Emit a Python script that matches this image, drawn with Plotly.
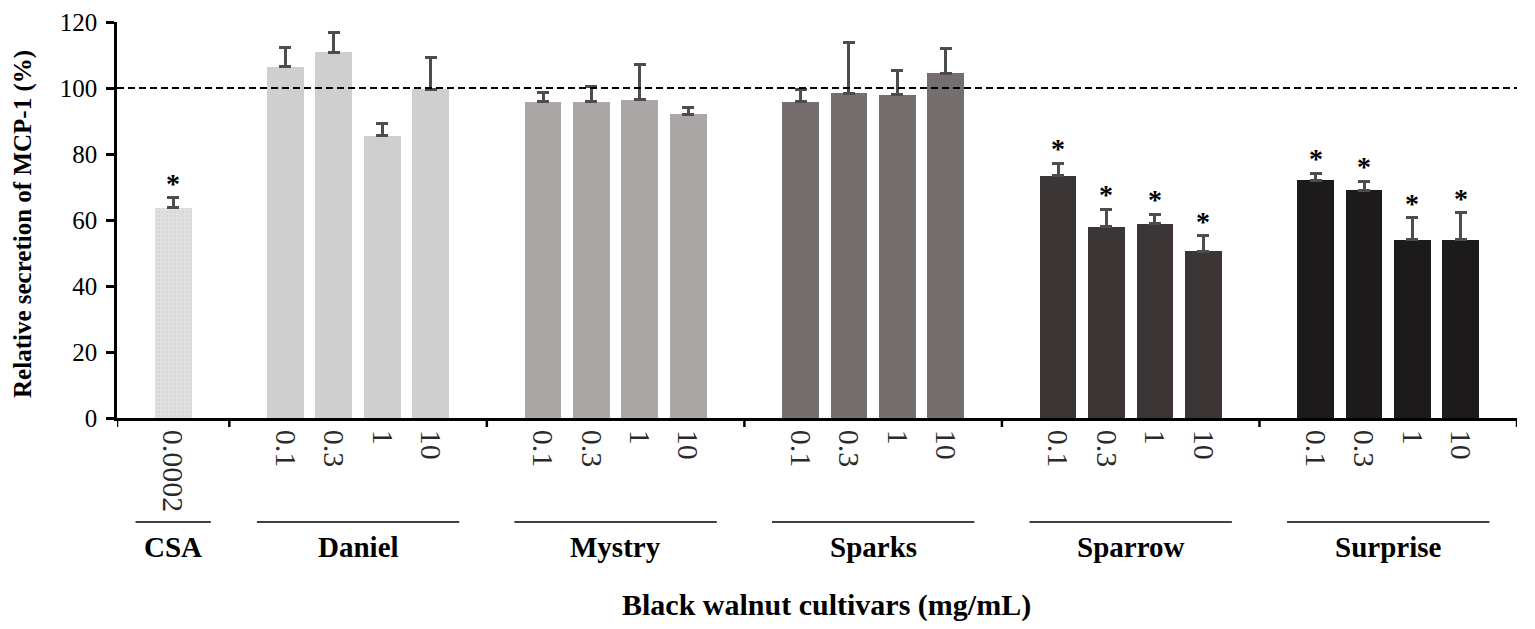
import plotly.graph_objects as go

# data
cultivars = ["CSA", "Daniel", "Mystry", "Sparks", "Sparrow", "Surprise"]
doses = [
    ["0.0002"],
    ["0.1", "0.3", "1", "10"],
    ["0.1", "0.3", "1", "10"],
    ["0.1", "0.3", "1", "10"],
    ["0.1", "0.3", "1", "10"],
    ["0.1", "0.3", "1", "10"],
]
mcp1 = [
    [63.7],
    [106.4, 110.9, 85.6, 99.6],
    [95.9, 95.9, 96.5, 92.0],
    [95.9, 98.4, 97.9, 104.5],
    [73.4, 57.9, 58.9, 50.5],
    [72.0, 69.0, 54.0, 54.0],
]
sem = [
    [3.1],
    [5.8, 5.9, 3.6, 9.6],
    [2.8, 4.6, 10.7, 2.1],
    [3.7, 15.3, 7.3, 7.6],
    [3.8, 5.3, 2.9, 4.7],
    [2.2, 2.7, 6.7, 8.2],
]
significant = [
    [True],
    [False, False, False, False],
    [False, False, False, False],
    [False, False, False, False],
    [True, True, True, True],
    [True, True, True, True],
]
colors = ["#dcdcdc", "#cfcfcf", "#aba7a6", "#746e6e", "#3b3536", "#1c1a1a"]

FONT = "Liberation Serif"
PAD = 1.16      # space between group edge and first/last bar (in bar slots)
W, H = 1527, 621
M = dict(l=109, r=18, t=14, b=211)
PLOT_W = W - M["l"] - M["r"]
PLOT_H = H - M["t"] - M["b"]   # used for paper offsets below the axis

fig = go.Figure()

tick_x, tick_text, seps, group_spans = [], [], [0.0], []
start = 0.0
for g, name in enumerate(cultivars):
    xs = [start + PAD + k for k in range(len(doses[g]))]
    end = start + 2 * PAD + len(doses[g]) - 1
    pattern = dict(shape=".", fgcolor="#cbcbcb", bgcolor="#e0e0e0", size=4, solidity=0.25) if g == 0 else None
    fig.add_trace(go.Bar(
        x=xs, y=mcp1[g], width=0.76, name=name,
        marker=dict(color=colors[g], line=dict(width=0), pattern=pattern),
        error_y=dict(type="data", symmetric=False, array=sem[g], arrayminus=[0] * len(xs),
                     color="#4d4d4d", thickness=3, width=6),
        showlegend=False,
    ))
    for k, x in enumerate(xs):
        tick_x.append(x)
        tick_text.append(doses[g][k])
        if significant[g][k]:
            fig.add_annotation(x=x, y=mcp1[g][k] + sem[g][k], text="<b>*</b>", showarrow=False,
                               yanchor="bottom", yshift=-3, font=dict(family=FONT, size=28, color="black"))
    inset = min(0.57, (end - start) * 0.165)
    group_spans.append((start + inset, end - inset, (start + end) / 2, name))
    seps.append(end)
    start = end

total = start

# reference line at 100 %
fig.add_shape(type="line", xref="x", yref="y", x0=0, x1=total, y0=100, y1=100,
              line=dict(color="black", width=1.8, dash="7px,4px"))

# ticks between groups
for s in seps:
    fig.add_shape(type="line", xref="x", yref="paper", x0=s, x1=s, y0=0, y1=-9 / PLOT_H,
                  line=dict(color="black", width=2.5))

# group lines and labels
for x0, x1, xc, name in group_spans:
    fig.add_shape(type="line", xref="x", yref="paper", x0=x0, x1=x1,
                  y0=-104 / PLOT_H, y1=-104 / PLOT_H, line=dict(color="black", width=1.5))
    fig.add_annotation(x=xc, xref="x", y=-129 / PLOT_H, yref="paper", text="<b>%s</b>" % name,
                       showarrow=False, yanchor="middle", font=dict(family=FONT, size=29, color="black"))

fig.add_annotation(x=0.507, xref="paper", y=-187 / PLOT_H, yref="paper",
                   text="<b>Black walnut cultivars (mg/mL)</b>", showarrow=False, yanchor="middle",
                   font=dict(family=FONT, size=30, color="black"))
fig.add_annotation(x=-94 / PLOT_W, xref="paper", y=0.49, yref="paper", textangle=-90,
                   text="<b>Relative secretion of MCP-1 (%)</b>", showarrow=False,
                   xanchor="center", yanchor="middle",
                   font=dict(family=FONT, size=25, color="black"))

# page body has an 8px margin, so the figure is shifted by that much
fig.update_layout(
    width=W, height=H,
    margin=M,
    paper_bgcolor="white", plot_bgcolor="white",
    bargap=0,
    xaxis=dict(range=[0, total], tickvals=tick_x, ticktext=tick_text, tickangle=90,
               ticks="", ticklabelstandoff=3, showline=True, linecolor="black", linewidth=2.5,
               showgrid=False, zeroline=False, automargin=False,
               tickfont=dict(family=FONT, size=30, color="#2a2a2a")),
    yaxis=dict(range=[0, 120], tickvals=[0, 20, 40, 60, 80, 100, 120], ticks="outside",
               ticklen=8, tickwidth=2.5, tickcolor="black", showline=True, linecolor="black",
               linewidth=2.5, showgrid=False, zeroline=False, ticklabelstandoff=4,
               ticklabeloverflow="allow", automargin=False,
               tickfont=dict(family=FONT, size=25, color="black")),
)

fig.write_html("out.html")
